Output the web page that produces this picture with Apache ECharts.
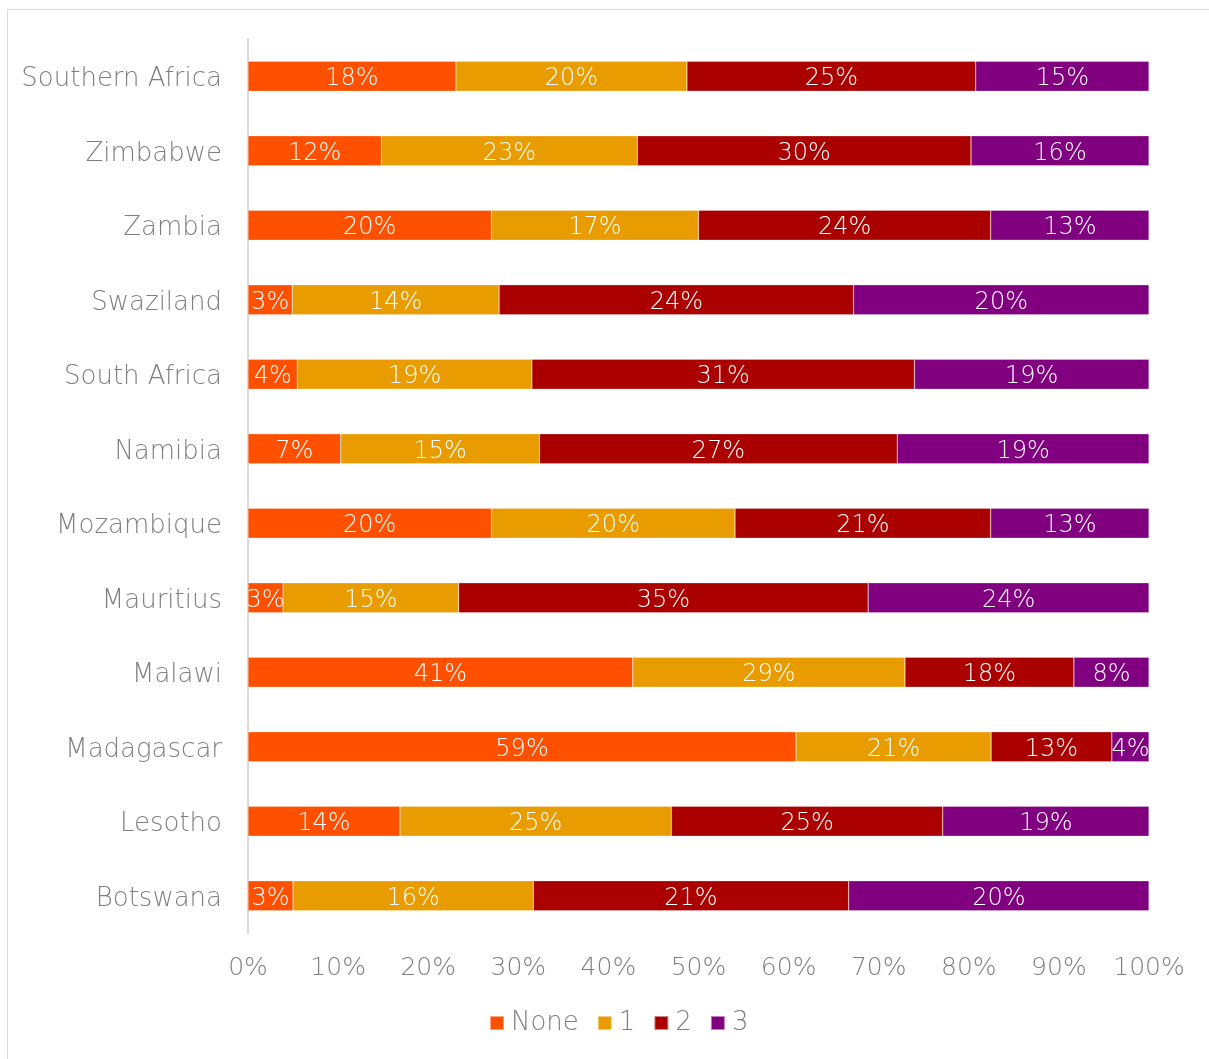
<!DOCTYPE html>
<html>
<head>
<meta charset="utf-8">
<script src="https://cdn.jsdelivr.net/npm/echarts@6/dist/echarts.min.js"></script>
<style>
  html, body { margin: 0; padding: 0; background: #fff; }
  #chart { width: 1209px; height: 1059px; }
</style>
</head>
<body>
<div id="chart"></div>
<script>
// Countries, listed top to bottom
const countries = ['Southern Africa', 'Zimbabwe', 'Zambia', 'Swaziland', 'South Africa', 'Namibia',
                   'Mozambique', 'Mauritius', 'Malawi', 'Madagascar', 'Lesotho', 'Botswana'];
const seriesNames = ['None', '1', '2', '3'];
// Shares (%) for each group, per country
const noneVals  = [18, 12, 20, 3, 4, 7, 20, 3, 41, 59, 14, 3];
const oneVals   = [20, 23, 17, 14, 19, 15, 20, 15, 29, 21, 25, 16];
const twoVals   = [25, 30, 24, 24, 31, 27, 21, 35, 18, 13, 25, 21];
const threeVals = [15, 16, 13, 20, 19, 19, 13, 24, 8, 4, 19, 20];
const xTicks = ['0%', '10%', '20%', '30%', '40%', '50%', '60%', '70%', '80%', '90%', '100%'];

const colors = ['#FF5000', '#E89C00', '#AA0000', '#800080'];
const FONT = "'Century Gothic', 'DejaVu Sans', sans-serif";
const WEIGHT = 200;

const groups = [noneVals, oneVals, twoVals, threeVals];
// Each bar is scaled so the four parts fill the full 100% width
const totals = countries.map((_, i) => groups.reduce((s, g) => s + g[i], 0));

const series = groups.map((vals, k) => ({
  name: seriesNames[k],
  type: 'bar',
  stack: 'total',
  barWidth: 30,
  itemStyle: { color: colors[k], borderColor: 'rgba(255,255,255,0.5)', borderWidth: 0.5 },
  label: {
    show: true,
    position: 'inside',
    offset: [0, 3],
    color: '#fff',
    fontFamily: FONT,
    fontWeight: WEIGHT,
    fontSize: 24,
    formatter: p => vals[p.dataIndex] + '%'
  },
  data: vals.map((v, i) => v / totals[i] * 100)
}));

const chart = echarts.init(document.getElementById('chart'), null, { renderer: 'canvas' });
chart.setOption({
  animation: false,
  backgroundColor: '#fff',
  graphic: [{
    type: 'rect',
    shape: { x: 7.5, y: 9.5, width: 1210, height: 1060 },
    style: { fill: 'none', stroke: '#d9d9d9', lineWidth: 1 },
    silent: true
  }],
  grid: { left: 248, right: 60, top: 39, bottom: 126, containLabel: false },
  legend: {
    left: 489,
    top: 1010,
    padding: 0,
    itemWidth: 14,
    itemHeight: 14,
    itemGap: 18,
    icon: 'rect',
    textStyle: { color: '#7f7f7f', fontFamily: FONT, fontWeight: WEIGHT, fontSize: 26, padding: [0, 0, 0, 2] },
    data: seriesNames
  },
  xAxis: {
    type: 'value',
    min: 0,
    max: 100,
    interval: 10,
    axisLine: { show: false },
    axisTick: { show: false },
    splitLine: { show: false },
    axisLabel: {
      color: '#7f7f7f',
      fontFamily: FONT,
      fontWeight: WEIGHT,
      fontSize: 25,
      margin: 23,
      formatter: (v) => xTicks[Math.round(v / 10)]
    }
  },
  yAxis: {
    type: 'category',
    inverse: true,
    data: countries,
    axisLine: { show: true, lineStyle: { color: '#d9d9d9', width: 2 } },
    axisTick: { show: false },
    axisLabel: {
      margin: 26,
      formatter: (v) => '{c|' + v + '}',
      rich: {
        c: {
          color: '#7f7f7f', fontFamily: FONT, fontWeight: WEIGHT, fontSize: 26,
          padding: [6, 0, 0, 0]
        }
      }
    }
  },
  series: series
});
</script>
</body>
</html>
